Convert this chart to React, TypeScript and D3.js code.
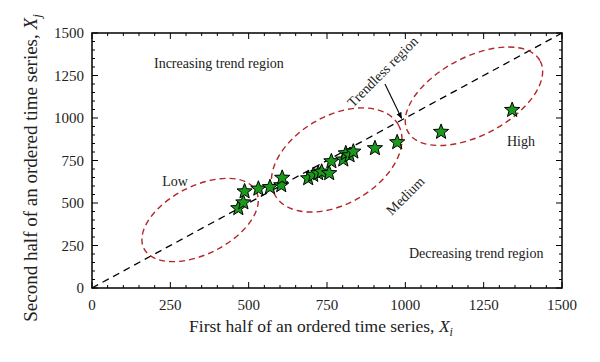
import React from "react";
import * as d3 from "d3";

// observed pairs (first half Xi, second half Xj)
const xiValues = [467, 483, 487, 531, 568, 604, 607, 690, 706, 722, 733, 757, 764, 802, 810, 822, 834, 903, 974, 1114, 1341];
const xjValues = [469, 503, 568, 584, 593, 604, 648, 645, 665, 675, 684, 675, 745, 755, 792, 780, 802, 822, 857, 918, 1047];

const majorTicks = [0, 250, 500, 750, 1000, 1250, 1500];
const minorTicks = d3.range(0, 1501, 50).filter((v) => v % 250 !== 0);

// group ellipses: centre in data units, radii in px, angle in deg
const groups = [
  { name: "low", cx: 345, cy: 400, rx: 63, ry: 34, angle: -27 },
  { name: "medium", cx: 781, cy: 753, rx: 71, ry: 44, angle: -30 },
  { name: "high", cx: 1219, cy: 1128, rx: 75, ry: 39, angle: -28 },
];

const labels = [
  { text: "Increasing trend region", x: 405, y: 1294, rot: 0, anchor: "middle" },
  { text: "Trendless region", x: 833, y: 1059, rot: -45, anchor: "start" },
  { text: "Low", x: 265, y: 600, rot: 0, anchor: "middle" },
  { text: "High", x: 1369, y: 835, rot: 0, anchor: "middle" },
  { text: "Medium", x: 957, y: 424, rot: -45, anchor: "start" },
  { text: "Decreasing trend region", x: 1226, y: 176, rot: 0, anchor: "middle" },
];

const arrow = { x1: 935, y1: 1200, x2: 988, y2: 998 };

const width = 600;
const height = 362;
const margin = { left: 92, right: 38, top: 33, bottom: 74 };
const font = "'Liberation Serif', 'Times New Roman', serif";

const starPath = (R: number, r: number) => {
  const pts: [number, number][] = [];
  for (let i = 0; i < 10; i++) {
    const a = (Math.PI / 5) * i - Math.PI / 2;
    const rad = i % 2 === 0 ? R : r;
    pts.push([Math.cos(a) * rad, Math.sin(a) * rad]);
  }
  return "M" + pts.map((p) => p.join(",")).join("L") + "Z";
};

const App = () => {
  const x = d3.scaleLinear().domain([0, 1500]).range([margin.left, width - margin.right]);
  const y = d3.scaleLinear().domain([0, 1500]).range([height - margin.bottom, margin.top]);
  const x0 = x(0), x1 = x(1500), y0 = y(0), y1 = y(1500);
  const star = starPath(8, 3.4);

  return (
    <svg width={width} height={height} style={{ position: "absolute", left: 0, top: 0, background: "#fff" }}>
      <defs>
        <marker id="arr" viewBox="0 0 10 10" refX="9" refY="5" markerWidth="6" markerHeight="6" orient="auto">
          <path d="M0,1 L10,5 L0,9 Z" fill="#000" />
        </marker>
      </defs>

      {/* ticks, inward on all four sides */}
      <g stroke="#000" strokeWidth={1}>
        {majorTicks.map((t) => (
          <g key={"M" + t}>
            <line x1={x(t)} x2={x(t)} y1={y0} y2={y0 - 6} />
            <line x1={x(t)} x2={x(t)} y1={y1} y2={y1 + 6} />
            <line y1={y(t)} y2={y(t)} x1={x0} x2={x0 + 6} />
            <line y1={y(t)} y2={y(t)} x1={x1} x2={x1 - 6} />
          </g>
        ))}
        {minorTicks.map((t) => (
          <g key={"m" + t}>
            <line x1={x(t)} x2={x(t)} y1={y0} y2={y0 - 3} />
            <line x1={x(t)} x2={x(t)} y1={y1} y2={y1 + 3} />
            <line y1={y(t)} y2={y(t)} x1={x0} x2={x0 + 3} />
            <line y1={y(t)} y2={y(t)} x1={x1} x2={x1 - 3} />
          </g>
        ))}
      </g>
      <rect x={x0} y={y1} width={x1 - x0} height={y0 - y1} fill="none" stroke="#000" strokeWidth={1.5} />

      {/* tick labels */}
      <g fontFamily={font} fontSize={15} fill="#222">
        {majorTicks.map((t) => (
          <text key={"xl" + t} x={x(t)} y={y0 + 22} textAnchor="middle">{t}</text>
        ))}
        {majorTicks.map((t) => (
          <text key={"yl" + t} x={x0 - 8} y={y(t) + 5} textAnchor="end">{t}</text>
        ))}
      </g>

      {/* 1:1 line */}
      <line x1={x(0)} y1={y(0)} x2={x(1500)} y2={y(1500)} stroke="#000" strokeWidth={1.3} strokeDasharray="7,5" />

      {/* group ellipses */}
      {groups.map((g) => (
        <ellipse
          key={g.name}
          cx={0}
          cy={0}
          rx={g.rx}
          ry={g.ry}
          transform={`translate(${x(g.cx)},${y(g.cy)}) rotate(${g.angle})`}
          fill="none"
          stroke="#b3262a"
          strokeWidth={1.4}
          strokeDasharray="6,4"
        />
      ))}

      {/* stars */}
      {xiValues.map((v, i) => (
        <path
          key={"s" + i}
          d={star}
          transform={`translate(${x(v)},${y(xjValues[i])})`}
          fill="#1a9a1a"
          stroke="#000"
          strokeWidth={1}
          strokeLinejoin="miter"
        />
      ))}

      {/* annotations */}
      <line x1={x(arrow.x1)} y1={y(arrow.y1)} x2={x(arrow.x2)} y2={y(arrow.y2)} stroke="#000" strokeWidth={1.1} markerEnd="url(#arr)" />
      <g fontFamily={font} fontSize={14} fill="#222">
        {labels.map((l) => (
          <text
            key={l.text}
            textAnchor={l.anchor}
            transform={`translate(${x(l.x)},${y(l.y)}) rotate(${l.rot})`}
          >
            {l.text}
          </text>
        ))}
      </g>

      {/* axis titles */}
      <text x={321} y={332} textAnchor="middle" fontFamily={font} fontSize={17.5} fill="#222">
        First half of an ordered time series, <tspan fontStyle="italic">X</tspan>
        <tspan fontStyle="italic" fontSize={12} dy={4}>i</tspan>
      </text>
      <text
        transform={`translate(37,168) rotate(-90)`}
        textAnchor="middle"
        fontFamily={font}
        fontSize={19}
        fill="#222"
      >
        Second half of an ordered time series, <tspan fontStyle="italic">X</tspan>
        <tspan fontStyle="italic" fontSize={13} dy={4}>j</tspan>
      </text>
    </svg>
  );
};

export default App;
